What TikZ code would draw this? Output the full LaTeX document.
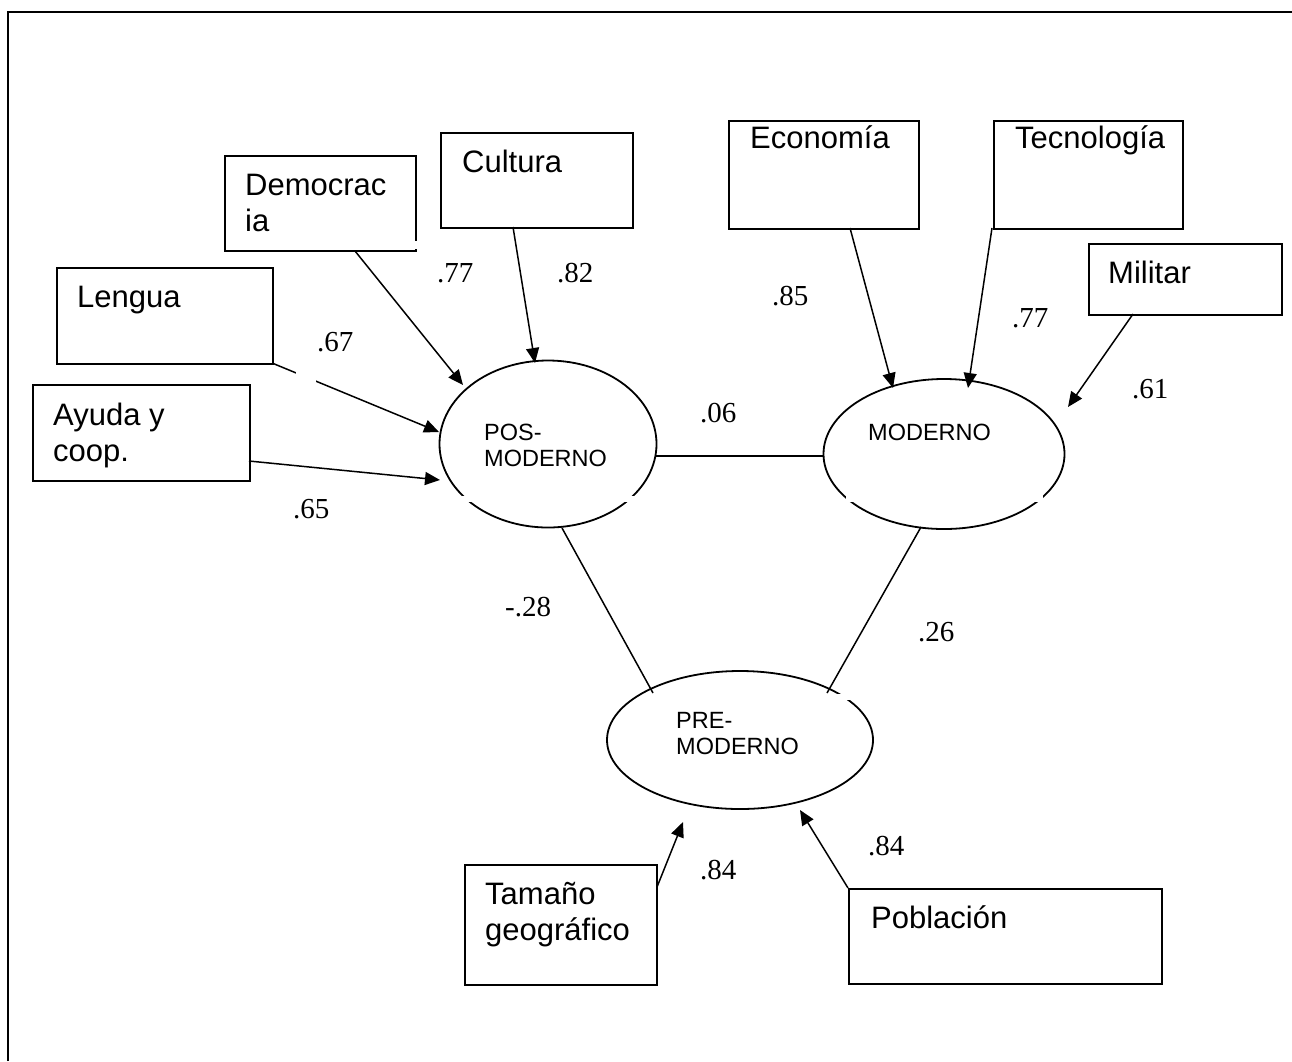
\documentclass[tikz,border=0pt]{standalone}
\usepackage{fontspec}
\setmainfont{Liberation Serif}
\setsansfont{Liberation Sans}
\usetikzlibrary{arrows.meta,shapes.geometric}
\begin{document}
\begin{tikzpicture}[x=1pt,y=-1pt,
  frame/.style={line width=2.4pt},
  rbox/.style={draw,line width=2pt,inner sep=0,anchor=north west},
  btext/.style={font=\sffamily\fontsize{31}{36}\selectfont,anchor=base west,inner sep=0},
  etext/.style={font=\sffamily\fontsize{23.5}{27}\selectfont,anchor=base west,inner sep=0},
  latent/.style={draw,ellipse,line width=1.8pt,inner sep=0},
  coef/.style={font=\fontsize{29}{32}\selectfont,anchor=base west,inner sep=0},
  path/.style={line width=1.5pt,-{Triangle[length=15pt,width=13pt]}},
  link/.style={line width=1.5pt},
  gap/.style={fill=white}]
\useasboundingbox (0,0) rectangle (1292,1061);
\fill[white] (0,0) rectangle (1292,1061);
% frame (top and left only)
\draw[frame] (8,1061) -- (8,12) -- (1292,12);

% indicator boxes
\node[rbox,minimum width=191,minimum height=95] (democ) at (224,155) {};
\node[rbox,minimum width=192,minimum height=95] (cult) at (440,132) {};
\node[rbox,minimum width=190,minimum height=108] (econ) at (728,120) {};
\node[rbox,minimum width=189,minimum height=108] (tecn) at (993,120) {};
\node[rbox,minimum width=193,minimum height=71] (milit) at (1088,243) {};
\node[rbox,minimum width=216,minimum height=96] (leng) at (56,267) {};
\node[rbox,minimum width=217,minimum height=96] (ayuda) at (32,384) {};
\node[rbox,minimum width=192,minimum height=120] (taman) at (464,864) {};
\node[rbox,minimum width=313,minimum height=95] (pobl) at (848,888) {};

% box texts
\node[btext] (tdemoc1) at (245,195) {Democrac};
\node[btext] (tdemoc2) at (245,231) {ia};
\node[btext] (tcult) at (462,172) {Cultura};
\node[btext] (tecon) at (750,148) {Economía};
\node[btext] (ttecn) at (1015,148) {Tecnología};
\node[btext] (tmilit) at (1108,283) {Militar};
\node[btext] (tleng) at (77,307) {Lengua};
\node[btext] (tayuda1) at (53,425) {Ayuda y};
\node[btext] (tayuda2) at (53,461) {coop.};
\node[btext] (ttaman1) at (485,904) {Tamaño};
\node[btext] (ttaman2) at (485,940) {geográfico};
\node[btext] (tpobl) at (871,928) {Población};

% latent variables
\node[latent,minimum width=217,minimum height=167] (pos) at (548,444) {};
\node[latent,minimum width=241,minimum height=150] (mod) at (944,454) {};
\node[latent,minimum width=266,minimum height=138] (pre) at (740,740) {};
\node[etext] (tpos1) at (484,440) {POS-};
\node[etext] (tpos2) at (484,466) {MODERNO};
\node[etext] (tmod) at (868,440) {MODERNO};
\node[etext] (tpre1) at (676,728) {PRE-};
\node[etext] (tpre2) at (676,754) {MODERNO};

% connector end points
\coordinate (democS) at (355,251);
\coordinate (democT) at (463,385);
\coordinate (cultS) at (513,227);
\coordinate (cultT) at (535,363);
\coordinate (lengS) at (272,363);
\coordinate (lengT) at (439,432);
\coordinate (ayudaS) at (249,461);
\coordinate (ayudaT) at (440,480);
\coordinate (econS) at (850,228);
\coordinate (econT) at (893,388);
\coordinate (tecnS) at (992,228);
\coordinate (tecnT) at (968,388);
\coordinate (militS) at (1133,314);
\coordinate (militT) at (1068,407);
\coordinate (tamanS) at (657,887);
\coordinate (tamanT) at (683,822);
\coordinate (poblS) at (848,888);
\coordinate (poblT) at (800,810);
\coordinate (posE) at (656,456);
\coordinate (modW) at (824,456);
\coordinate (posB) at (562,528);
\coordinate (preL) at (653,693);
\coordinate (modB) at (921,527);
\coordinate (preR) at (827,693);

\draw[path] (democS) -- (democT);
\draw[path] (cultS) -- (cultT);
\draw[path] (lengS) -- (lengT);
\draw[path] (ayudaS) -- (ayudaT);
\draw[path] (econS) -- (econT);
\draw[path] (tecnS) -- (tecnT);
\draw[path] (militS) -- (militT);
\draw[path] (tamanS) -- (tamanT);
\draw[path] (poblS) -- (poblT);
\draw[link] (posE) -- (modW);
\draw[link] (posB) -- (preL);
\draw[link] (modB) -- (preR);

% small breaks in the lines, as in the original
\fill[gap] (412.5,241) rectangle (418,248.6);
\fill[gap] (296,366) rectangle (316,390);
\fill[gap] (460,496) rectangle (476,502);
\fill[gap] (622,496) rectangle (636,502);
\fill[gap] (846,495) rectangle (861,502);
\fill[gap] (1027,495) rectangle (1043,502);
\fill[gap] (835,694) rectangle (851,700);

% coefficients
\node[coef] (c1) at (437,282) {.77};
\node[coef] (c2) at (557,282) {.82};
\node[coef] (c3) at (317,351) {.67};
\node[coef] (c4) at (293,518) {.65};
\node[coef] (c5) at (700,422) {.06};
\node[coef] (c6) at (772,305) {.85};
\node[coef] (c7) at (1012,327) {.77};
\node[coef] (c8) at (1132,398) {.61};
\node[coef] (c9) at (505,616) {-.28};
\node[coef] (c10) at (918,641) {.26};
\node[coef] (c11) at (700,879) {.84};
\node[coef] (c12) at (868,855) {.84};
\end{tikzpicture}
\end{document}
